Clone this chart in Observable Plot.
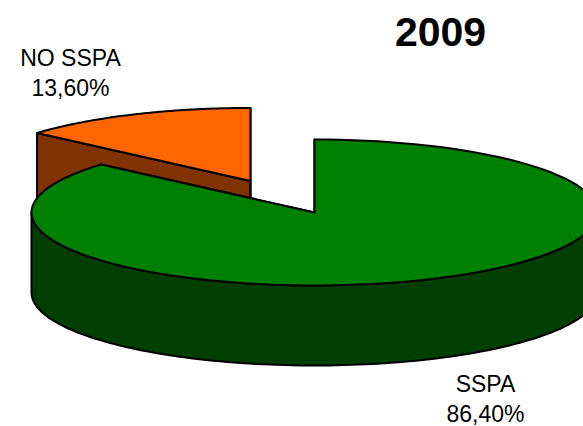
<!DOCTYPE html>
<html><head><meta charset="utf-8">
<script src="https://cdn.jsdelivr.net/npm/d3@7"></script>
<script src="https://cdn.jsdelivr.net/npm/@observablehq/plot@0.6"></script>
<style>body{margin:0;background:#fff;overflow:hidden}</style>
</head><body><div id="chart"></div>
<script>
// ---- data ----
const categories = ["NO SSPA", "SSPA"];
const shares = [13.6, 86.4];
const shareLabels = ["13,60%", "86,40%"];
const title = "2009";

// ---- layout / style ----
const W = 583, H = 426;
const cx = 314, cy = 212, rx = 283, ry = 73, depth = 80;
const explodeX = [0.546, 0], explodeY = [0.475, 0];
const topColors = ["#ff6600", "#008000"];
const sideColors = ["#803300", "#003f00"];
const labelXY = [[70, 70.6], [485, 397]];

const total = d3.sum(shares);
const a0 = -2 * Math.PI * shares[0] / total;
const arcs = d3.pie().sort(null).startAngle(a0).endAngle(a0 + 2 * Math.PI)(shares);

function sliceGeom(arc, i) {
  const mid = (arc.startAngle + arc.endAngle) / 2;
  const c = [cx + explodeX[i] * rx * Math.sin(mid), cy - explodeY[i] * ry * Math.cos(mid)];
  const pt = (a, dz) => [c[0] + rx * Math.sin(a), c[1] - ry * Math.cos(a) + dz];
  const arcPts = (s, e, dz) => d3.range(0, 121).map(k => pt(s + (e - s) * k / 120, dz));
  const close = p => p.concat([p[0]]);
  const polys = [];
  // radius (cut) faces
  for (const b of [arc.startAngle, arc.endAngle]) {
    polys.push({fill: sideColors[i], pts: close([[c[0], c[1]], pt(b, 0), pt(b, depth), [c[0], c[1] + depth]])});
  }
  // visible outer side (front half)
  for (const off of [-2 * Math.PI, 0, 2 * Math.PI]) {
    const s = Math.max(arc.startAngle, Math.PI / 2 + off);
    const e = Math.min(arc.endAngle, 3 * Math.PI / 2 + off);
    if (e > s) {
      const topA = arcPts(s, e, 0);
      const botA = arcPts(s, e, depth).reverse();
      polys.push({fill: sideColors[i], pts: close(topA.concat(botA))});
    }
  }
  // top face
  polys.push({fill: topColors[i], pts: close([[c[0], c[1]]].concat(arcPts(arc.startAngle, arc.endAngle, 0)))});
  return polys;
}

const polys = arcs.flatMap((a, i) => sliceGeom(a, i));

const marks = polys.map(p => Plot.line(p.pts, {
  x: d => d[0], y: d => d[1], fill: p.fill, stroke: "black",
  strokeWidth: 2, strokeLinejoin: "round"
}));

marks.push(Plot.text(d3.range(categories.length), {
  x: i => labelXY[i][0], y: i => labelXY[i][1],
  text: i => categories[i] + "\n" + shareLabels[i],
  fontSize: 23, lineHeight: 1.3, textAnchor: "middle", fill: "black"
}));
marks.push(Plot.text([title], {
  x: () => 440, y: () => 32, text: d => d,
  fontSize: 41, fontWeight: "bold", textAnchor: "middle", fill: "black"
}));

const chart = Plot.plot({
  width: W, height: H,
  marginLeft: 0, marginRight: 0, marginTop: 0, marginBottom: 0,
  x: {domain: [0, W], range: [0, W], axis: null},
  y: {domain: [0, H], range: [0, H], axis: null},
  style: {fontFamily: "'Liberation Sans', Arial, sans-serif", background: "white", overflow: "hidden"},
  marks
});
document.getElementById("chart").appendChild(chart);
</script>
</body></html>
